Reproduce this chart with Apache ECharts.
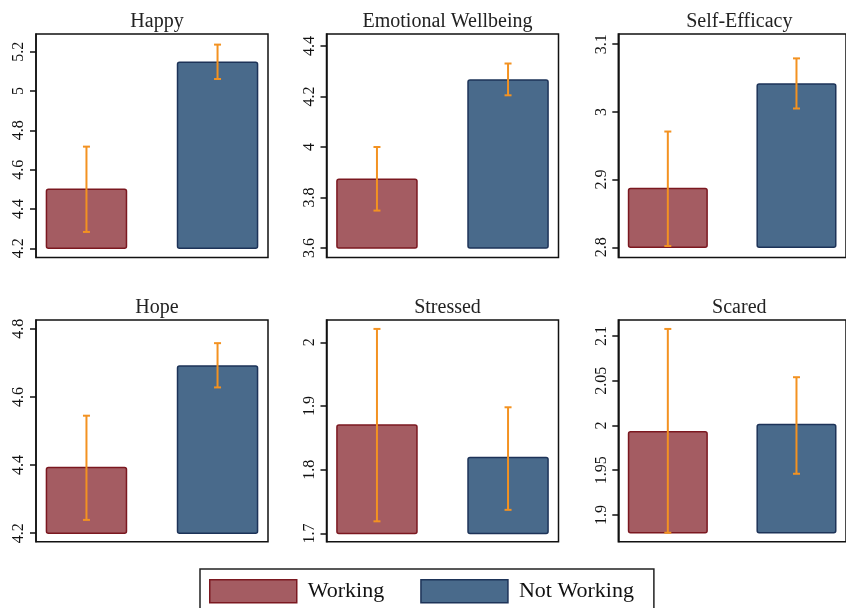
<!DOCTYPE html>
<html>
<head>
<meta charset="utf-8">
<script src="https://cdn.jsdelivr.net/npm/echarts@6/dist/echarts.min.js"></script>
<style>
  html, body { margin: 0; padding: 0; background: #fff; }
  #main { width: 846px; height: 608px; }
</style>
</head>
<body>
<div id="main"></div>
<script>
// panel titles and group names
var panelTitles = ['Happy', 'Emotional Wellbeing', 'Self-Efficacy', 'Hope', 'Stressed', 'Scared'];
var groupNames = ['Working', 'Not Working'];

// means and confidence bounds
var workingMean = [4.50, 3.872, 2.887, 4.393, 1.870, 1.993];
var workingLow = [4.283, 3.748, 2.802, 4.239, 1.719, 1.880];
var workingHigh = [4.717, 4.000, 2.971, 4.545, 2.021, 2.108];
var notWorkingMean = [5.146, 4.266, 3.041, 4.691, 1.819, 2.001];
var notWorkingLow = [5.061, 4.205, 3.005, 4.628, 1.737, 1.946];
var notWorkingHigh = [5.236, 4.331, 3.079, 4.758, 1.898, 2.054];

// bar base and y ranges per panel
var barBase = [4.2, 3.6, 2.8, 4.2, 1.7, 1.88];
var axisMin = [4.153, 3.562, 2.785, 4.175, 1.687, 1.870];
var axisMax = [5.290, 4.448, 3.115, 4.826, 2.035, 2.118];

// y tick labels
var tickValues = [
	[4.2, 4.4, 4.6, 4.8, 5, 5.2],
	[3.6, 3.8, 4, 4.2, 4.4],
	[2.8, 2.9, 3, 3.1],
	[4.2, 4.4, 4.6, 4.8],
	[1.7, 1.8, 1.9, 2],
	[1.9, 1.95, 2, 2.05, 2.1]
];

var FONT = '"Liberation Serif", "DejaVu Serif", serif';
var workingStyle = { color: '#a45c62', borderColor: '#7b1820', borderWidth: 1.5 };
var notWorkingStyle = { color: '#496a8b', borderColor: '#1d3358', borderWidth: 1.5 };
var errColor = '#f39221';

// grid layout: 2 rows x 3 columns
var colLeft = [36, 326.5, 618.3];
var colWidth = 232;
var rowTop = [34, 320];
var rowHeight = [223.5, 221.7];

var myChart = echarts.init(document.getElementById('main'));

// bar drawn from base to mean, shifted left (-1) or right (+1) in the band
function barRenderer(side) {
	return function(params, api) {
		var top = api.coord([api.value(0), api.value(2)]);
		var bottom = api.coord([api.value(0), api.value(1)]);
		var band = api.size([1, 0])[0];
		var w = band * 0.345;
		var x = top[0] + side * band * 0.2825 - w / 2;
		return {
			type: 'rect',
			shape: { x: x, y: top[1], width: w, height: bottom[1] - top[1], r: 2 },
			style: api.style()
		};
	};
}

// error bar with small caps
function errRenderer(side) {
	return function(params, api) {
		var hi = api.coord([api.value(0), api.value(2)]);
		var lo = api.coord([api.value(0), api.value(1)]);
		var band = api.size([1, 0])[0];
		var x = hi[0] + side * band * 0.2825;
		var cap = 3.5;
		var st = { stroke: errColor, lineWidth: 2, fill: null };
		return {
			type: 'group',
			children: [
				{ type: 'line', shape: { x1: x, y1: hi[1], x2: x, y2: lo[1] }, style: st },
				{ type: 'line', shape: { x1: x - cap, y1: hi[1], x2: x + cap, y2: hi[1] }, style: st },
				{ type: 'line', shape: { x1: x - cap, y1: lo[1], x2: x + cap, y2: lo[1] }, style: st }
			]
		};
	};
}

var grids = [], xAxes = [], yAxes = [], titles = [], series = [];

for (var i = 0; i < panelTitles.length; i++) {
	var r = Math.floor(i / 3), c = i % 3;
	grids.push({
		left: colLeft[c],
		top: rowTop[r],
		width: colWidth,
		height: rowHeight[r],
		show: true,
		borderColor: '#111',
		borderWidth: 1.5,
		backgroundColor: 'transparent'
	});
	titles.push({
		text: panelTitles[i],
		left: colLeft[c] + colWidth / 2,
		textAlign: 'center',
		top: rowTop[r] - 27,
		textStyle: { fontFamily: FONT, fontSize: 20, fontWeight: 'normal', color: '#222' }
	});
	xAxes.push({
		type: 'category',
		gridIndex: i,
		data: [panelTitles[i]],
		axisLine: { show: false },
		axisTick: { show: false },
		axisLabel: { show: false }
	});
	yAxes.push({
		type: 'value',
		gridIndex: i,
		min: axisMin[i],
		max: axisMax[i],
		splitLine: { show: false },
		axisLine: { show: true, lineStyle: { color: '#111', width: 1.5 } },
		axisTick: { show: true, length: 6, customValues: tickValues[i], lineStyle: { color: '#111', width: 1.5 } },
		axisLabel: {
			customValues: tickValues[i],
			rotate: 90,
			margin: 9,
			fontFamily: FONT,
			fontSize: 16,
			color: '#111'
		}
	});
	series.push({
		type: 'custom',
		name: groupNames[0],
		xAxisIndex: i,
		yAxisIndex: i,
		itemStyle: workingStyle,
		data: [[0, barBase[i], workingMean[i]]],
		renderItem: barRenderer(-1),
		silent: true
	});
	series.push({
		type: 'custom',
		name: groupNames[1],
		xAxisIndex: i,
		yAxisIndex: i,
		itemStyle: notWorkingStyle,
		data: [[0, barBase[i], notWorkingMean[i]]],
		renderItem: barRenderer(1),
		silent: true
	});
	series.push({
		type: 'custom',
		name: 'ci-w-' + i,
		xAxisIndex: i,
		yAxisIndex: i,
		z: 5,
		data: [[0, workingLow[i], workingHigh[i]]],
		renderItem: errRenderer(-1),
		silent: true
	});
	series.push({
		type: 'custom',
		name: 'ci-nw-' + i,
		xAxisIndex: i,
		yAxisIndex: i,
		z: 5,
		data: [[0, notWorkingLow[i], notWorkingHigh[i]]],
		renderItem: errRenderer(1),
		silent: true
	});
}

var option = {
	animation: false,
	backgroundColor: '#fff',
	title: titles,
	grid: grids,
	xAxis: xAxes,
	yAxis: yAxes,
	legend: {
		left: 200,
		top: 569,
		orient: 'horizontal',
		icon: 'rect',
		itemWidth: 87,
		itemHeight: 23,
		itemGap: 36,
		padding: [10, 20, 10, 9],
		borderColor: '#222',
		borderWidth: 1.5,
		selectedMode: false,
		data: [
			{ name: groupNames[0], itemStyle: workingStyle },
			{ name: groupNames[1], itemStyle: notWorkingStyle }
		],
		textStyle: { fontFamily: FONT, fontSize: 22, color: '#111', padding: [0, 0, 0, 6] }
	},
	series: series
};

myChart.setOption(option);
</script>
</body>
</html>
